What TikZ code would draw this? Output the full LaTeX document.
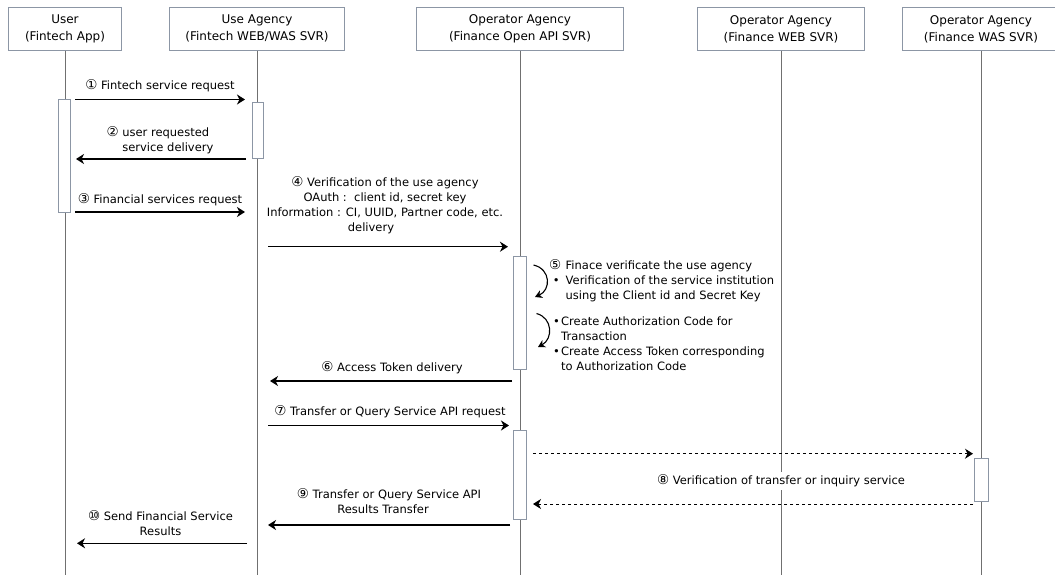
\documentclass[tikz,border=0pt]{standalone}
\usepackage{fontspec}
\setmainfont{DejaVu Sans}
\newfontfamily\numfont{DejaVu Sans}
\usepackage{xcolor}
\usetikzlibrary{arrows.meta}
\usetikzlibrary{positioning}

\definecolor{boxgray}{HTML}{8C96A5}
\definecolor{linegray}{HTML}{707070}
\newcommand{\cnum}[1]{{\numfont\fontsize{13.5}{13.5}\selectfont #1}}

\begin{document}
\begin{tikzpicture}[x=1pt,y=-1pt,
    actor/.style={draw=boxgray,line width=1pt,minimum height=43pt,align=center,inner sep=0pt,font=\fontsize{12}{17}\selectfont},
    lifeline/.style={draw=linegray,line width=1pt},
    activ/.style={draw=boxgray,fill=white,line width=1pt,minimum width=12pt,inner sep=0pt},
    msg/.style={line width=1.3pt,-{Stealth[length=8pt,width=10pt,inset=2.5pt]}},
    reply/.style={msg,dashed,line width=1pt},
    curl/.style={line width=1.1pt,-{Stealth[length=7pt,width=8pt,inset=2pt]}},
    lbl/.style={font=\fontsize{11.5}{15}\selectfont,inner sep=0pt}]

  \useasboundingbox (0,0) rectangle (1055,575);

  % the participants
  \node[actor,minimum width=113pt] (user)  at (65,28.7)  {User\\(Fintech App)};
  \node[actor,minimum width=175pt] (useag) at (257,28.7) {Use Agency\\(Fintech WEB/WAS SVR)};
  \node[actor,minimum width=207pt] (opapi) at (520,29)   {Operator Agency\\(Finance Open API SVR)};
  \node[actor,minimum width=167pt] (opweb) at (781,29)   {Operator Agency\\(Finance WEB SVR)};
  \node[actor,minimum width=158pt] (opwas) at (981,29)   {Operator Agency\\(Finance WAS SVR)};

  \foreach \p in {user,useag,opapi,opweb,opwas}
  {
      \draw[lifeline] (\p.south) -- ++(0,530);
  }

  % activation bars
  \node[activ,minimum height=112.7pt] (actU)  at (64.5,156.3) {};
  \node[activ,minimum height=55.6pt,minimum width=11pt] (actA) at (257.5,130.5) {};
  \node[activ,minimum height=113pt,minimum width=13pt]  (actO1) at (520,312.5) {};
  \node[activ,minimum height=88.6pt,minimum width=13pt] (actO2) at (520,475) {};
  \node[activ,minimum height=42.7pt,minimum width=14pt] (actW)  at (981,479.7) {};

  % end points of the messages
  \coordinate (m1a) at (75,99.5);    \coordinate (m1b) at (245,99.5);
  \coordinate (m2a) at (246,159);    \coordinate (m2b) at (76,159);
  \coordinate (m3a) at (75,212);     \coordinate (m3b) at (245,212);
  \coordinate (m4a) at (268,246.7);  \coordinate (m4b) at (508,246.7);
  \coordinate (m6a) at (512,381);    \coordinate (m6b) at (270,381);
  \coordinate (m7a) at (268,425.5);  \coordinate (m7b) at (509,425.5);
  \coordinate (m8a) at (533,453.7);  \coordinate (m8b) at (973,453.7);
  \coordinate (m8c) at (973,504);    \coordinate (m8d) at (533,504);
  \coordinate (m9a) at (510,525);    \coordinate (m9b) at (268,525);
  \coordinate (m10a) at (247,543.3); \coordinate (m10b) at (77,543.3);
  \coordinate (c5a) at (533.5,265);   \coordinate (c5b) at (535,297);
  \coordinate (c5c) at (536.5,313.5); \coordinate (c5d) at (538,347);

  \draw[msg] (m1a) -- (m1b);
  \draw[msg] (m2a) -- (m2b);
  \draw[msg] (m3a) -- (m3b);
  \draw[msg] (m4a) -- (m4b);
  \draw[curl] (c5a) .. controls (551,269) and (551,290) .. (c5b);
  \draw[curl] (c5c) .. controls (553,318) and (553,339) .. (c5d);
  \draw[msg] (m6a) -- (m6b);
  \draw[msg] (m7a) -- (m7b);
  \draw[reply] (m8a) -- (m8b);
  \draw[reply] (m8c) -- (m8d);
  \draw[msg] (m9a) -- (m9b);
  \draw[msg] (m10a) -- (m10b);

  % the labels
  \node[lbl] (t1) at (160,86) {\cnum{①} Fintech service request};
  \node[lbl,align=left] (t2) at (160,140) {\cnum{②} user requested\\\hphantom{\cnum{②} }service delivery};
  \node[lbl] (t3) at (160,200) {\cnum{③} Financial services request};
  \node[lbl,align=center] (t4) at (385,205.7) {\cnum{④} Verification of the use agency\\OAuth :\ \ client id, secret key\\Information : CI, UUID, Partner code, etc.\\delivery\hspace*{28pt}};
  \node[lbl,align=left,anchor=west] (t5) at (549,281) {\makebox[16.5pt][l]{\cnum{⑤}}Finace verificate the use agency\\\makebox[16.5pt][r]{\textbullet\hspace{6pt}}Verification of the service institution\\\hspace*{16.5pt}using the Client id and Secret Key};
  \node[lbl,align=left,anchor=west] (t5b) at (553,344) {\makebox[8pt][l]{\textbullet}Create Authorization Code for\\\hspace*{8pt}Transaction\\\makebox[8pt][l]{\textbullet}Create Access Token corresponding\\\hspace*{8pt}to Authorization Code};
  \node[lbl] (t6) at (392,367.5) {\cnum{⑥} Access Token delivery};
  \node[lbl] (t7) at (390,411.5) {\cnum{⑦} Transfer or Query Service API request};
  \node[lbl,fill=white,inner sep=3pt] (t8) at (781,480.7) {\cnum{⑧} Verification of transfer or inquiry service};
  \node[lbl,align=center] (t9) at (389,501.3) {\cnum{⑨} Transfer or Query Service API\\Results Transfer\hspace*{12pt}};
  \node[lbl,align=center] (t10) at (160.5,523.2) {\cnum{⑩} Send Financial Service\\Results};

\end{tikzpicture}
\end{document}
